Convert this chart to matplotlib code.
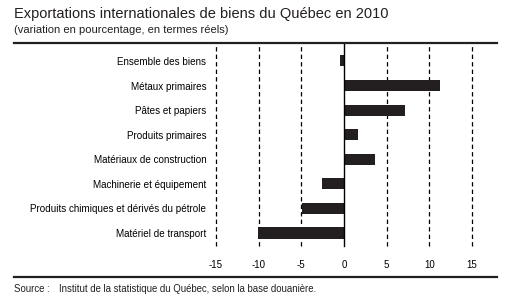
"""plot.py"""

import matplotlib.pyplot as plt
from matplotlib.lines import Line2D

plt.rcParams["font.family"] = ["Liberation Sans", "DejaVu Sans"]

categories = [
    "Ensemble des biens",
    "Métaux primaires",
    "Pâtes et papiers",
    "Produits primaires",
    "Matériaux de construction",
    "Machinerie et équipement",
    "Produits chimiques et dérivés du pétrole",
    "Matériel de transport",
]
values = [-0.5, 11.3, 7.1, 1.6, 3.6, -2.6, -4.9, -10.1]
xticks = [-15, -10, -5, 0, 5, 10, 15]

fig = plt.figure(figsize=(5.05, 2.97), dpi=100)
ax = fig.add_axes([216 / 505, 1 - 246 / 297, 256 / 505, 202 / 297])

ypos = list(range(len(categories)))
ax.barh(ypos, values, height=0.45, color="#231f20", zorder=3)

for t in xticks:
    if t == 0:
        ax.axvline(0, color="black", lw=1.0, zorder=4, clip_on=False)
    else:
        ax.axvline(t, color="black", lw=0.9, ls=(0, (3.5, 2.5)), zorder=1, clip_on=False)

ax.set_xlim(-15, 15)
ax.set_ylim(len(categories) - 1 + 0.53, -0.69)
ax.set_xticks(xticks)
ax.set_xticklabels([str(t) for t in xticks], fontsize=7)
ax.set_yticks(ypos)
ax.set_yticklabels(categories, fontsize=7.1)
ax.tick_params(axis="both", length=0)
ax.tick_params(axis="y", pad=7)
ax.tick_params(axis="x", pad=10)
for s in ax.spines.values():
    s.set_visible(False)

fig.text(14 / 505, 1 - 14 / 297, "Exportations internationales de biens du Québec en 2010",
         fontsize=10.5, va="center", ha="left", color="#231f20")
fig.text(14 / 505, 1 - 30 / 297, "(variation en pourcentage, en termes réels)",
         fontsize=8, va="center", ha="left", color="#231f20")
fig.text(14 / 505, 1 - 289 / 297, "Source :",
         fontsize=6.9, va="center", ha="left", color="#231f20")
fig.text(59 / 505, 1 - 289 / 297,
         "Institut de la statistique du Québec, selon la base douanière.",
         fontsize=6.9, va="center", ha="left", color="#231f20")

for yy in (43, 277):
    fig.add_artist(Line2D([14 / 505, 497 / 505], [1 - yy / 297, 1 - yy / 297],
                          color="#231f20", lw=1.6, transform=fig.transFigure))

fig.savefig("out.png", dpi=100)
